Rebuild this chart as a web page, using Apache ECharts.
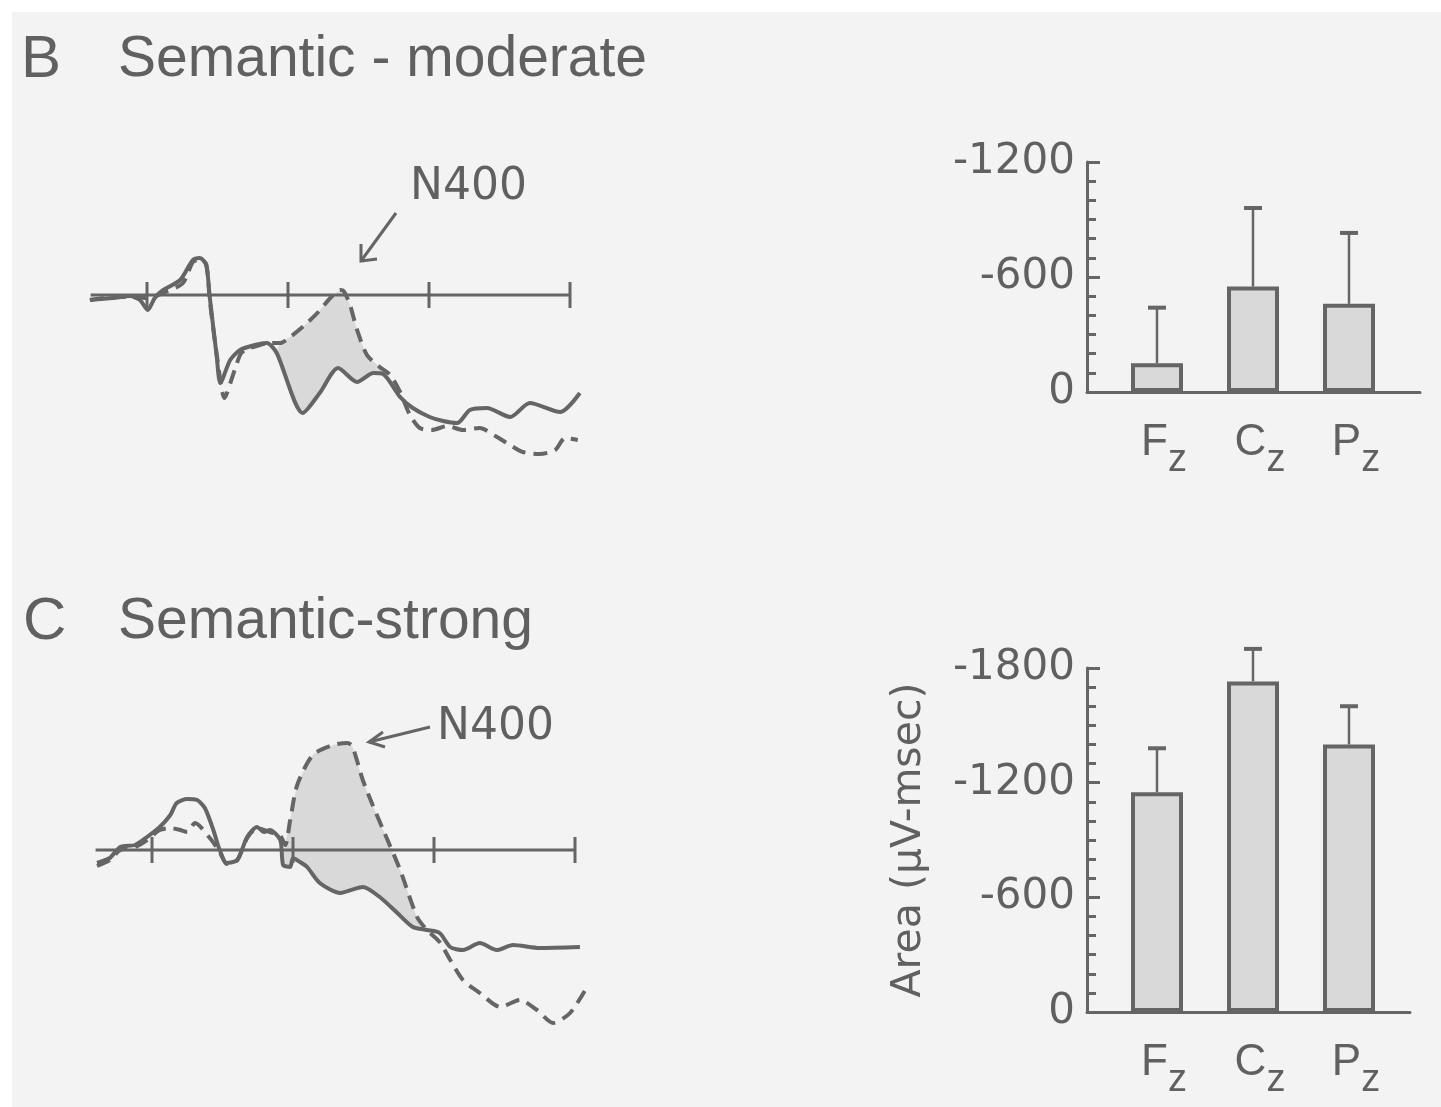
<!DOCTYPE html>
<html><head><meta charset="utf-8">
<script src="https://cdn.jsdelivr.net/npm/echarts@6/dist/echarts.min.js"></script>
<style>html,body{margin:0;padding:0;background:#fff}#c{width:1441px;height:1107px}</style>
</head><body><div id="c"></div>
<script>
// ---- data (time in ms, amplitude in µV, negative plotted up) ----
const WAVE_TICKS = [0, 200, 400, 600];
const BASE_START = -80;
const B_SOLID = [[-81,0.5],[-48,0.3],[-24,0.1],[-10,0.5],[1,1.5],[11,0.3],[23,-0.5],[47,-1.5],[65,-3.5],[75,-3.7],[84,-3.0],[89,0.2],[99,6.2],[104,8.8],[118,6.5],[132,5.5],[153,5.0],[170,4.8],[184,5.8],[221,11.8],[245,9.8],[271,7.3],[298,8.7],[321,7.8],[335,7.9],[359,10.2],[377,11.3],[401,12.2],[420,12.6],[440,12.8],[458,11.5],[482,11.3],[515,12.2],[543,10.8],[586,11.7],[614,9.8]];
const B_DASHED = [[-81,0.5],[-48,0.2],[-24,0.2],[1,0.3],[26,-0.3],[51,-1.2],[65,-3.3],[75,-3.5],[84,-3.1],[89,0.5],[99,6.0],[110,10.3],[122,8.0],[132,6.0],[139,5.5],[160,5.0],[174,4.8],[189,4.8],[203,4.2],[224,3.0],[243,1.7],[260,0.3],[274,-0.5],[279,-0.4],[288,1.0],[298,3.5],[312,6.0],[330,7.2],[345,8.0],[359,9.7],[373,12.0],[387,13.3],[404,13.5],[426,13.1],[448,13.5],[472,13.3],[494,14.1],[515,15.0],[533,15.7],[557,15.9],[579,15.5],[593,14.3],[611,14.5]];
const C_SOLID = [[-78,1.3],[-60,0.8],[-45,-0.3],[-24,-0.5],[-7,-1.3],[11,-2.3],[26,-3.5],[35,-4.7],[50,-5.1],[64,-5.0],[75,-4.2],[87,-2.0],[96,0],[106,1.3],[121,1.0],[135,-1.3],[149,-2.3],[159,-1.8],[167,-2.0],[182,-1.0],[186,1.5],[196,1.7],[200,0.8],[210,1.2],[220,1.7],[238,3.3],[267,4.3],[299,3.7],[323,4.7],[348,6.3],[370,7.7],[390,8.0],[408,8.3],[423,9.7],[441,10.0],[465,9.3],[489,10.0],[512,9.5],[550,9.8],[607,9.7]];
const C_DASHED = [[-78,1.6],[-60,1.0],[-45,0],[-24,-0.3],[-7,-1.0],[11,-2.0],[26,-2.2],[40,-2.0],[50,-1.8],[61,-2.7],[82,-1.2],[96,0.2],[106,1.4],[121,1.0],[135,-1.2],[149,-2.2],[167,-1.8],[182,-1.4],[189,-0.5],[196,-3.0],[206,-6.5],[228,-9.5],[257,-10.5],[277,-10.7],[284,-10.4],[299,-7.0],[313,-4.5],[328,-2.0],[352,2.0],[376,6.7],[390,8.0],[408,9.2],[423,11.0],[441,13.0],[465,14.3],[494,15.7],[522,15.0],[546,16.0],[569,17.3],[593,16.3],[617,13.7]];
const B_FILL_RANGE = [184, 345];
const C_FILL_RANGE = [186, 390];

const SITES = ['Fz', 'Cz', 'Pz'];
const B_AREA = [-150, -550, -460];
const B_ERR  = [-440, -960, -830];
const C_AREA = [-1150, -1730, -1400];
const C_ERR  = [-1380, -1900, -1600];
const B_YTICKS = [0, -600, -1200];
const C_YTICKS = [0, -600, -1200, -1800];

// ---- styles ----
const INK = '#656565';
const TXT = '#606060';
const FILL = '#d9d9d9';
const SANS = 'Liberation Sans';
const WIDE = 'DejaVu Sans';

function baselineItem(params, api) {
  const a = api.coord([BASE_START, 0]), b = api.coord([600, 0]);
  const ch = [{type:'line', shape:{x1:a[0], y1:a[1], x2:b[0], y2:b[1]}, style:{stroke:INK, lineWidth:3}}];
  WAVE_TICKS.forEach(t => {
    const p = api.coord([t, 0]);
    ch.push({type:'line', shape:{x1:p[0], y1:p[1]-13, x2:p[0], y2:p[1]+13}, style:{stroke:INK, lineWidth:3}});
  });
  return {type:'group', children: ch};
}
function fillItem(solid, dashed, range) {
  return function (params, api) {
    const pts = [];
    dashed.forEach(d => { if (d[0] >= range[0] && d[0] <= range[1]) pts.push(api.coord(d)); });
    for (let i = solid.length - 1; i >= 0; i--) {
      const d = solid[i];
      if (d[0] >= range[0] && d[0] <= range[1]) pts.push(api.coord(d));
    }
    return {type:'polygon', shape:{points: pts, smooth: 0.15}, style:{fill: FILL}};
  };
}
function errItem(params, api) {
  const i = api.value(0);
  const top = api.coord([i, api.value(1)]);
  const e = api.coord([i, api.value(2)]);
  return {type:'group', children:[
    {type:'line', shape:{x1:top[0], y1:top[1], x2:e[0], y2:e[1]}, style:{stroke:INK, lineWidth:2.5}},
    {type:'line', shape:{x1:e[0]-9, y1:e[1], x2:e[0]+9, y2:e[1]}, style:{stroke:INK, lineWidth:4}}
  ]};
}
function waveLine(data, idx, dashed) {
  return {type:'line', xAxisIndex:idx, yAxisIndex:idx, data, showSymbol:false, smooth:0.25, z:5,
    lineStyle:{color:INK, width:4, type: dashed ? [14, 8] : 'solid'}, animation:false};
}
function catAxis(grid) {
  return {type:'category', gridIndex:grid, data:SITES,
    axisLine:{show:false}, axisTick:{show:false},
    axisLabel:{margin:14, formatter: v => '{m|' + v[0] + '}{s|' + v.slice(1).toLowerCase() + '}',
      rich:{m:{fontFamily:SANS, fontSize:44, color:TXT, padding:[0,0,0,14]},
            s:{fontFamily:SANS, fontSize:38, color:TXT, padding:[36,0,0,0]}}}};
}
function baseAxis(grid) {
  return {type:'value', gridIndex:grid, min:0, max:1, axisLine:{show:true, lineStyle:{color:INK, width:3}},
    axisTick:{show:false}, axisLabel:{show:false}, splitLine:{show:false}};
}
function barYAxis(grid, ticks, extra) {
  return Object.assign({type:'value', gridIndex:grid, inverse:true, min:Math.min(...ticks), max:0, interval:600, offset:22,
    axisLine:{show:true, lineStyle:{color:INK, width:3}},
    axisTick:{show:true, inside:true, length:13, lineStyle:{color:INK, width:3}},
    minorTick:{show:true, splitNumber:6, length:9, lineStyle:{color:INK, width:3}},
    axisLabel:{margin:12, fontFamily:WIDE, fontSize:42, color:TXT, formatter: v => String(v)},
    splitLine:{show:false}}, extra || {});
}
const hiddenVal = (grid, min, max, inv) => ({type:'value', gridIndex:grid, min, max, inverse:!!inv, show:false});

const chart = echarts.init(document.getElementById('c'), null, {renderer:'canvas'});
chart.setOption({
  animation:false,
  backgroundColor:'#ffffff',
  title:[
    {text:'B', left:16, top:25, textStyle:{fontFamily:SANS, fontSize:60, fontWeight:'normal', color:TXT}},
    {text:'Semantic - moderate', left:113, top:27, textStyle:{fontFamily:SANS, fontSize:57, fontWeight:'normal', color:TXT}},
    {text:'C', left:18, top:587, textStyle:{fontFamily:SANS, fontSize:60, fontWeight:'normal', color:TXT}},
    {text:'Semantic-strong', left:113, top:589, textStyle:{fontFamily:SANS, fontSize:57, fontWeight:'normal', color:TXT}}
  ],
  graphic:[
    {type:'rect', left:12, top:12, z:-100, shape:{width:1429, height:1095}, style:{fill:'#f3f3f3'}, silent:true},
    {type:'text', left:410, top:166, style:{text:'N400', font:'44px "DejaVu Sans"', fill:TXT}},
    {type:'polyline', shape:{points:[[396,213],[361,261]]}, style:{stroke:INK, lineWidth:3, fill:null}},
    {type:'polyline', shape:{points:[[361,244],[361,261],[377,259]]}, style:{stroke:INK, lineWidth:3, fill:null}},
    {type:'text', left:437, top:706, style:{text:'N400', font:'44px "DejaVu Sans"', fill:TXT}},
    {type:'polyline', shape:{points:[[430,727],[369,742]]}, style:{stroke:INK, lineWidth:3, fill:null}},
    {type:'polyline', shape:{points:[[383,732],[369,742],[385,747]]}, style:{stroke:INK, lineWidth:3, fill:null}}
  ],
  grid:[
    {left:76.5, top:245, width:507.6, height:220},
    {left:81.5, top:730, width:507.6, height:300},
    {left:1109, top:162, width:288, height:230},
    {left:1087, top:162, width:333, height:230},
    {left:1109, top:668, width:288, height:344},
    {left:1087, top:668, width:323, height:344}
  ],
  xAxis:[
    hiddenVal(0, -100, 620), hiddenVal(1, -100, 620),
    catAxis(2), baseAxis(3), catAxis(4), baseAxis(5)
  ],
  yAxis:[
    hiddenVal(0, -5, 17, true), hiddenVal(1, -12, 18, true),
    barYAxis(2, B_YTICKS), hiddenVal(3, 0, 1),
    barYAxis(4, C_YTICKS, {name:'Area (\u03bcV-msec)', nameLocation:'middle', nameRotate:90, nameGap:157,
      nameTextStyle:{fontFamily:WIDE, fontSize:41, color:TXT}}),
    hiddenVal(5, 0, 1)
  ],
  series:[
    {type:'custom', xAxisIndex:0, yAxisIndex:0, data:[[0,0]], renderItem:fillItem(B_SOLID, B_DASHED, B_FILL_RANGE), z:1, clip:false},
    {type:'custom', xAxisIndex:0, yAxisIndex:0, data:[[0,0]], renderItem:baselineItem, z:2, clip:false},
    waveLine(B_SOLID, 0, false), waveLine(B_DASHED, 0, true),
    {type:'custom', xAxisIndex:1, yAxisIndex:1, data:[[0,0]], renderItem:fillItem(C_SOLID, C_DASHED, C_FILL_RANGE), z:1, clip:false},
    {type:'custom', xAxisIndex:1, yAxisIndex:1, data:[[0,0]], renderItem:baselineItem, z:2, clip:false},
    waveLine(C_SOLID, 1, false), waveLine(C_DASHED, 1, true),
    {type:'bar', xAxisIndex:2, yAxisIndex:2, data:B_AREA, barWidth:52,
      itemStyle:{color:FILL, borderColor:INK, borderWidth:4}, z:3},
    {type:'custom', xAxisIndex:2, yAxisIndex:2, data:SITES.map((s,i)=>[i, B_AREA[i], B_ERR[i]]), renderItem:errItem, z:4, clip:false},
    {type:'bar', xAxisIndex:4, yAxisIndex:4, data:C_AREA, barWidth:52,
      itemStyle:{color:FILL, borderColor:INK, borderWidth:4}, z:3},
    {type:'custom', xAxisIndex:4, yAxisIndex:4, data:SITES.map((s,i)=>[i, C_AREA[i], C_ERR[i]]), renderItem:errItem, z:4, clip:false}
  ]
});
</script></body></html>
